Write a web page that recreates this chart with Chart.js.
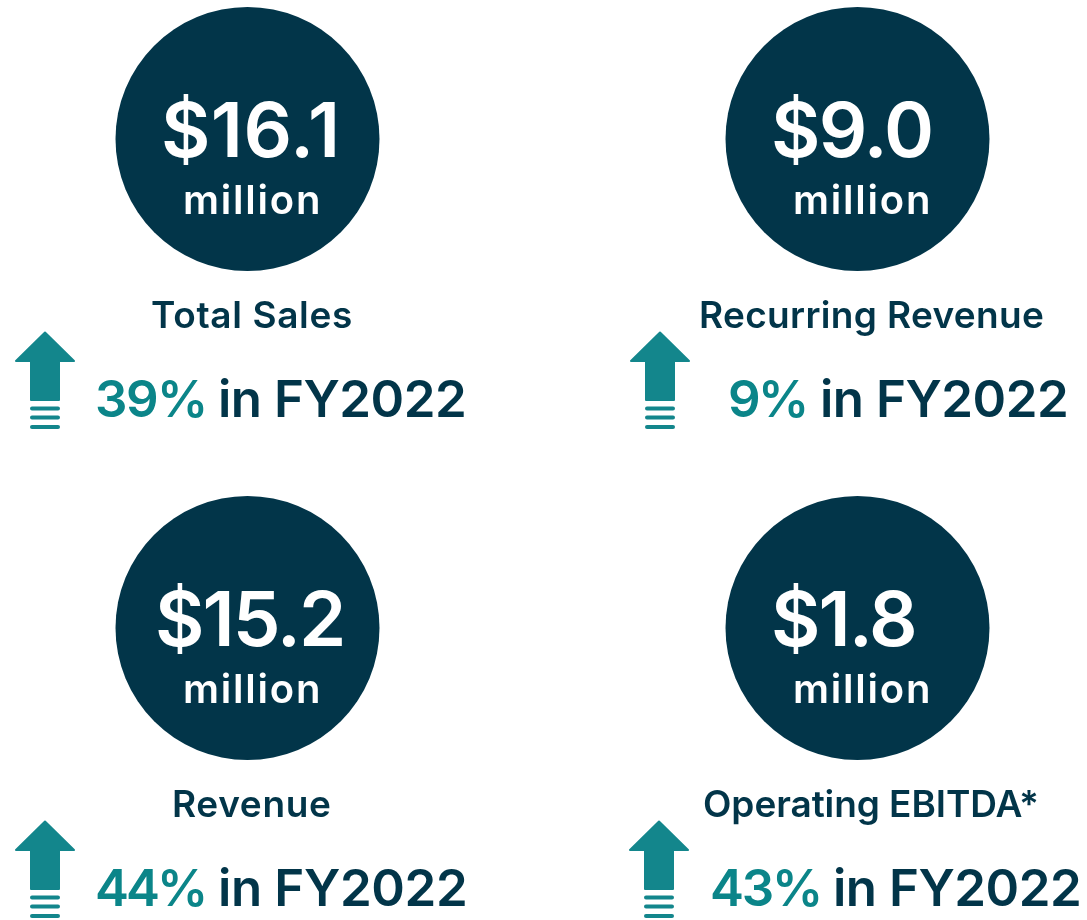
<!DOCTYPE html>
<html>
<head>
<meta charset="utf-8">
<title>FY2022 results</title>
<script src="https://cdn.jsdelivr.net/npm/chart.js@4"></script>
<style>
  html, body { margin: 0; padding: 0; background: #fff; }
  canvas { display: block; }
</style>
</head>
<body>
<canvas id="chart" width="1087" height="920"></canvas>
<script>
// values
const metrics = ['Total Sales', 'Recurring Revenue', 'Revenue', 'Operating EBITDA*'];
const amounts = [16.1, 9.0, 15.2, 1.8];
const changes = [39, 9, 44, 43];
const unit = 'million';
const period = 'in FY2022';

// layout, in page pixels (the hidden scales run 0-1087 and 0-920)
const circleX = [247.5, 857.5, 247.5, 857.5];
const circleY = [139, 139, 628, 628];
const arrowX = [45, 660, 45, 659];
const arrowY = [381, 381, 870, 870];
const amountSpan = [[164, 335], [774, 931], [158, 342], [774, 914]];
const unitSpan = [[185, 318], [795, 928], [185, 318], [795, 928]];
const metricSpan = [[152, 351], [701, 1043], [174, 330], [704, 1037]];
const changeSpan = [[97, 204], [730, 805], [97, 204], [712, 819]];
const periodSpan = [[220, 464], [822, 1066], [220, 465], [835, 1079]];

const navy = '#023549';
const teal = '#13868c';
const tealText = '#0b8589';
const fontName = 'Inter, sans-serif';

function arrowImage() {
  const c = document.createElement('canvas');
  c.width = 62;
  c.height = 100;
  const g = c.getContext('2d');
  g.fillStyle = teal;
  g.strokeStyle = teal;
  g.lineJoin = 'round';
  g.lineWidth = 2;
  g.beginPath();
  g.moveTo(31, 1.5);
  g.lineTo(60, 30);
  g.lineTo(45, 30);
  g.lineTo(45, 69);
  g.lineTo(17, 69);
  g.lineTo(17, 30);
  g.lineTo(2, 30);
  g.closePath();
  g.fill();
  g.stroke();
  g.lineCap = 'round';
  g.lineWidth = 4;
  [77.5, 86.5, 96].forEach(y => {
    g.beginPath();
    g.moveTo(18, y);
    g.lineTo(44, y);
    g.stroke();
  });
  return c;
}

const cardText = {
  id: 'cardText',
  afterDatasetsDraw(chart) {
    const { ctx, scales: { x, y } } = chart;
    // spreads the letters so the text fills the span it has in the picture
    const put = (text, span, base, font, color) => {
      ctx.font = font + ' ' + fontName;
      ctx.fillStyle = color;
      let spacing = 0;
      let m;
      for (let n = 0; n < 3; n++) {
        ctx.letterSpacing = spacing + 'px';
        m = ctx.measureText(text);
        const inked = m.actualBoundingBoxLeft + m.actualBoundingBoxRight;
        spacing += (span[1] - span[0] - inked) / (text.length - 1);
      }
      ctx.fillText(text, x.getPixelForValue(span[0]) + m.actualBoundingBoxLeft, y.getPixelForValue(base));
    };
    ctx.save();
    ctx.textAlign = 'left';
    ctx.textBaseline = 'alphabetic';
    metrics.forEach((m, i) => {
      const top = circleY[i];
      put('$' + amounts[i].toFixed(1), amountSpan[i], top + 18, '600 76px', '#fff');
      put(unit, unitSpan[i], top + 75, '600 40px', '#fff');
      put(m, metricSpan[i], top + 189, '600 37px', navy);
      put(changes[i] + '%', changeSpan[i], top + 278, '600 51px', tealText);
      put(period, periodSpan[i], top + 278, '600 51px', navy);
    });
    ctx.restore();
  }
};

new Chart('chart', {
  type: 'scatter',
  data: {
    datasets: [
      {
        label: 'Amount',
        data: circleX.map((cx, i) => ({ x: cx, y: circleY[i] })),
        pointRadius: 132,
        pointBackgroundColor: navy,
        pointBorderWidth: 0,
        clip: false
      },
      {
        label: 'Change',
        data: arrowX.map((ax, i) => ({ x: ax, y: arrowY[i] })),
        pointStyle: arrowImage(),
        clip: false
      }
    ]
  },
  options: {
    responsive: false,
    animation: false,
    layout: { padding: 0, autoPadding: false },
    plugins: { legend: { display: false }, tooltip: { enabled: false } },
    scales: {
      x: { type: 'linear', min: 0, max: 1087, display: false },
      y: { type: 'linear', min: 0, max: 920, reverse: true, display: false }
    }
  },
  plugins: [cardText]
});
</script>
</body>
</html>
